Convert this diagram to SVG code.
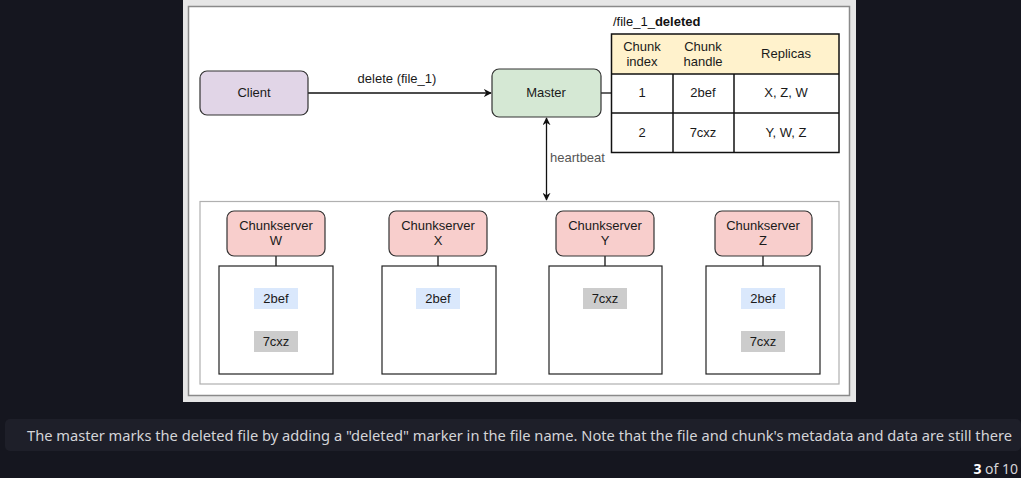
<svg xmlns="http://www.w3.org/2000/svg" width="1021" height="478" viewBox="0 0 1021 478">
<defs>
<style>
.t{font-family:"Liberation Sans",Arial,sans-serif;font-size:13px;fill:#1a1a1a;text-anchor:middle}
.node{stroke:#333;stroke-width:1.2}
.cs{fill:#f8cecc}
.box{fill:#fff;stroke:#222;stroke-width:1.2}
.blue{fill:#dae8fc}
.gray{fill:#cccccc}
.ln{stroke:#111;stroke-width:1.3;fill:none}
.cell{fill:none;stroke:#111;stroke-width:1.5}
.cap{font-family:"Noto Sans","DejaVu Sans",sans-serif;font-size:14px;fill:#d4d4d8}
</style>
<marker id="ah" viewBox="0 0 10 10" refX="9" refY="5" markerWidth="8" markerHeight="8" markerUnits="userSpaceOnUse" orient="auto-start-reverse">
<path d="M0,0 L10,5 L0,10 L3,5 Z" fill="#111"/>
</marker>
</defs>
<rect width="1021" height="478" fill="#15161f"/>
<rect x="5" y="419" width="1016" height="32" rx="5" fill="#1e1f29"/>
<text class="cap" x="27" y="441" textLength="985" lengthAdjust="spacingAndGlyphs">The master marks the deleted file by adding a "deleted" marker in the file name. Note that the file and chunk's metadata and data are still there</text>
<text class="cap" x="1018" y="474" text-anchor="end" font-size="15"><tspan font-weight="bold" fill="#ffffff">3</tspan> of 10</text>

<rect x="183" y="0" width="673" height="402" fill="#e6e6e6"/>
<rect x="188.5" y="6.5" width="661" height="389" fill="#ffffff" stroke="#8a8a8a" stroke-width="1.5"/>

<g id="chunk-panel">
<rect x="200" y="201.5" width="639" height="182.5" fill="#fff" stroke="#b0b0b0" stroke-width="1.2"/>
</g>

<g id="connectors">
<line class="ln" x1="308" y1="93" x2="491" y2="93" marker-end="url(#ah)"/>
<line class="ln" x1="601" y1="93" x2="611" y2="93"/>
<line class="ln" x1="546.5" y1="118" x2="546.5" y2="200" marker-start="url(#ah)" marker-end="url(#ah)"/>
<line class="ln" x1="276" y1="256" x2="276" y2="266"/>
<line class="ln" x1="438" y1="256" x2="438" y2="266"/>
<line class="ln" x1="605" y1="256" x2="605" y2="266"/>
<line class="ln" x1="763" y1="256" x2="763" y2="266"/>
<text class="t" x="397" y="83">delete (file_1)</text>
<text class="t" x="550" y="162" style="text-anchor:start;fill:#555">heartbeat</text>
</g>

<g id="client">
<rect class="node" x="200" y="71" width="108" height="44" rx="7" fill="#e1d5e7"/>
<text class="t" x="254" y="97">Client</text>
</g>

<g id="master">
<rect class="node" x="492" y="69" width="109" height="48" rx="7" fill="#d5e8d4"/>
<text class="t" x="546" y="97">Master</text>
</g>

<g id="metadata-table">
<text x="613" y="26" style="font-family:'Liberation Sans',Arial,sans-serif;font-size:13px;fill:#111">/file_1_<tspan font-weight="bold">deleted</tspan></text>
<rect x="611.5" y="34" width="227.5" height="40" fill="#fff2cc"/>
<rect x="611.5" y="74" width="227.5" height="78.5" fill="#fff"/>
<rect class="cell" x="611.5" y="34" width="227.5" height="118.5"/>
<line class="cell" x1="611.5" y1="74" x2="839" y2="74"/>
<line class="cell" x1="611.5" y1="113" x2="839" y2="113"/>
<line class="cell" x1="673" y1="74" x2="673" y2="152.5"/>
<line class="cell" x1="734" y1="74" x2="734" y2="152.5"/>
<text class="t" x="642" y="51">Chunk</text>
<text class="t" x="642" y="66">index</text>
<text class="t" x="703" y="51">Chunk</text>
<text class="t" x="703" y="66">handle</text>
<text class="t" x="786" y="58">Replicas</text>
<text class="t" x="642" y="97">1</text>
<text class="t" x="703" y="97">2bef</text>
<text class="t" x="786" y="97">X, Z, W</text>
<text class="t" x="642" y="137">2</text>
<text class="t" x="703" y="137">7cxz</text>
<text class="t" x="786" y="137">Y, W, Z</text>
</g>

<g id="chunkserver-w">
<rect class="node cs" x="227" y="211" width="98" height="45" rx="7"/>
<text class="t" x="276" y="230">Chunkserver</text>
<text class="t" x="276" y="245">W</text>
<rect class="box" x="219" y="266" width="114" height="108"/>
<rect class="blue" x="254" y="288" width="44" height="21"/>
<text class="t" x="276" y="303">2bef</text>
<rect class="gray" x="254" y="331" width="44" height="21"/>
<text class="t" x="276" y="346">7cxz</text>
</g>

<g id="chunkserver-x">
<rect class="node cs" x="389" y="211" width="98" height="45" rx="7"/>
<text class="t" x="438" y="230">Chunkserver</text>
<text class="t" x="438" y="245">X</text>
<rect class="box" x="382" y="266" width="114" height="108"/>
<rect class="blue" x="416" y="288" width="44" height="21"/>
<text class="t" x="438" y="303">2bef</text>
</g>

<g id="chunkserver-y">
<rect class="node cs" x="556" y="211" width="98" height="45" rx="7"/>
<text class="t" x="605" y="230">Chunkserver</text>
<text class="t" x="605" y="245">Y</text>
<rect class="box" x="549" y="266" width="113" height="108"/>
<rect class="gray" x="583" y="288" width="44" height="21"/>
<text class="t" x="605" y="303">7cxz</text>
</g>

<g id="chunkserver-z">
<rect class="node cs" x="715" y="211" width="97" height="45" rx="7"/>
<text class="t" x="763" y="230">Chunkserver</text>
<text class="t" x="763" y="245">Z</text>
<rect class="box" x="706" y="266" width="114" height="108"/>
<rect class="blue" x="741" y="288" width="44" height="21"/>
<text class="t" x="763" y="303">2bef</text>
<rect class="gray" x="741" y="331" width="44" height="21"/>
<text class="t" x="763" y="346">7cxz</text>
</g>
</svg>
